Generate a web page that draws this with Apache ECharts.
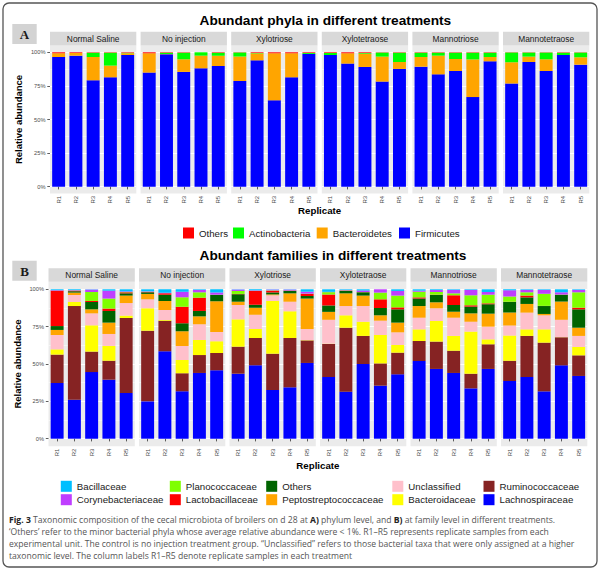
<!DOCTYPE html>
<html><head><meta charset="utf-8">
<script src="https://cdn.jsdelivr.net/npm/echarts@6/dist/echarts.min.js"></script>
<style>html,body{margin:0;padding:0;background:#fff}#c{width:600px;height:570px}</style>
</head><body><div id="c"></div>
<script>
// ---------- DATA ----------
const treatments = ['Normal Saline','No injection','Xylotriose','Xylotetraose','Mannotriose','Mannotetraose'];
const replicates = ['R1','R2','R3','R4','R5'];

// Panel A: phyla (stack order bottom -> top), 6 treatments x 5 replicates
const phylaNames = ['Firmicutes','Bacteroidetes','Actinobacteria','Others'];
const firmicutes     = [96.5,97.5,79.2,81.4,98.0, 84.9,98.5,85.4,88.1,89.8, 78.7,94.0,64.3,81.4,98.8, 98.0,91.6,89.1,78.2,87.6, 89.3,83.6,86.1,66.7,93.3, 76.7,92.8,86.1,98.0,90.8];
const bacteroidetes  = [2.8,2.0,17.3,8.7,1.3, 14.4,0.3,9.4,9.4,7.7, 18.1,5.2,35.0,17.9,0.0, 0.0,7.7,9.9,18.6,5.2, 7.2,13.9,8.9,28.0,3.2, 15.9,4.0,8.7,0.0,5.5];
const actinobacteria = [0.0,0.0,3.2,9.6,0.3, 0.0,0.8,4.9,2.5,2.2, 3.0,0.3,0.0,0.0,0.7, 1.5,0.0,0.5,3.0,6.9, 3.2,2.2,4.7,5.0,3.2, 7.2,3.0,5.0,1.7,3.5];
const othersPhyla    = [0.7,0.5,0.3,0.3,0.4, 0.7,0.4,0.3,0.0,0.3, 0.2,0.5,0.7,0.7,0.5, 0.5,0.7,0.5,0.2,0.3, 0.3,0.3,0.3,0.3,0.3, 0.2,0.2,0.2,0.3,0.2];

// Panel B: families (stack order bottom -> top)
const familyNames = ['Lachnospiraceae','Ruminococcaceae','Bacteroidaceae','Unclassified','Peptostreptococcaceae','Others','Lactobacillaceae','Planococcaceae','Corynebacteriaceae','Bacillaceae'];
const lachnospiraceae   = [37.3,26.1,44.6,39.5,30.6, 25.0,58.5,31.7,44.0,45.8, 43.5,49.1,32.6,34.4,50.7, 41.3,31.5,50.0,35.5,43.1, 52.0,46.7,44.0,33.7,46.7, 38.6,41.3,31.7,49.1,42.0];
const ruminococcaceae   = [19.0,62.7,13.7,12.7,50.2, 47.3,20.5,12.1,12.0,11.6, 18.1,18.3,24.3,33.0,15.1, 22.1,42.8,18.8,14.9,14.5, 13.4,18.3,14.9,9.8,16.5, 13.6,27.5,32.6,18.8,13.8];
const bacteroidaceae    = [3.5,2.7,17.6,9.9,1.6, 15.0,0.5,8.9,10.1,7.8, 18.3,6.0,35.3,17.9,0.2, 0.2,8.3,9.5,19.0,5.1, 7.8,13.8,9.9,28.2,3.3, 16.8,4.4,8.9,0.1,5.6];
const unclassified      = [9.6,4.7,8.0,8.0,8.4, 6.0,6.7,9.4,10.5,6.2, 9.6,9.6,3.8,6.4,7.4, 16.0,6.2,10.5,9.6,8.5, 7.8,8.5,12.2,6.6,8.5, 6.7,11.2,9.4,11.6,7.4];
const peptostreptococcaceae = [3.4,1.6,2.7,7.6,5.0, 3.6,6.0,9.8,5.3,20.6, 2.2,4.7,0.6,5.6,20.4, 5.3,8.5,7.0,3.6,6.5, 7.8,4.0,4.0,5.6,8.7, 8.7,5.8,0.9,12.2,5.5];
const othersFamily      = [2.6,0.9,4.9,7.8,1.5, 1.1,4.2,5.3,3.6,4.2, 5.0,2.0,1.3,1.6,1.7, 4.3,1.6,2.2,4.9,8.9, 5.0,4.9,4.5,4.5,6.3, 7.1,4.4,5.3,4.5,12.3];
const lactobacillaceae  = [23.7,0.3,0.7,1.6,0.7, 0.2,0.9,11.2,8.9,0.0, 0.2,9.2,1.1,0.2,1.4, 7.3,0.2,0.1,5.8,1.3, 0.8,0.2,6.5,0.9,0.6, 0.2,1.2,0.1,0.1,1.1];
const planococcaceae    = [0.0,0.2,6.0,6.7,0.2, 0.2,0.1,6.2,3.6,0.2, 2.0,0.2,0.3,0.1,0.2, 1.6,0.2,0.1,4.5,7.9, 3.8,1.8,1.3,6.7,5.8, 3.4,2.2,8.1,0.1,10.3];
const corynebacteriaceae= [0.3,0.3,1.6,5.3,0.4, 0.3,0.3,3.8,1.6,1.4, 0.9,0.3,0.5,0.6,1.3, 0.2,0.3,1.0,2.2,3.1, 0.7,1.3,2.3,3.6,1.8, 4.2,1.6,2.6,1.5,1.6];
const bacillaceae       = [0.6,0.5,0.2,0.9,1.4, 1.3,2.3,1.6,0.4,2.2, 0.2,0.6,0.2,0.2,1.6, 1.7,0.4,0.8,0.0,1.1, 0.9,0.5,0.4,0.4,1.8, 0.7,0.4,0.4,2.0,0.4];

// legend order as drawn
const legendAOrder = ['Others','Actinobacteria','Bacteroidetes','Firmicutes'];
const legendBRow1 = ['Bacillaceae','Planococcaceae','Others','Unclassified','Ruminococcaceae'];
const legendBRow2 = ['Corynebacteriaceae','Lactobacillaceae','Peptostreptococcaceae','Bacteroidaceae','Lachnospiraceae'];

const captionLines = [
  '{b|Fig. 3} Taxonomic composition of the cecal microbiota of broilers on d 28 at {b|A)} phylum level, and {b|B)} at family level in different treatments.',
  '\u2018Others\u2019 refer to the minor bacterial phyla whose average relative abundance were < 1%. R1\u2013R5 represents replicate samples from each',
  'experimental unit. The control is no injection treatment group. \u201CUnclassified\u201D refers to those bacterial taxa that were only assigned at a higher',
  'taxonomic level. The column labels R1\u2013R5 denote replicate samples in each treatment'
];

// ---------- STYLE / LAYOUT ----------
const FONT = 'Liberation Sans, Arial, Helvetica, sans-serif';
const CAPFONT = 'Open Sans, Noto Sans, sans-serif';
const phylaColors = {Firmicutes:'#0000FF', Bacteroidetes:'#FFA500', Actinobacteria:'#00FF00', Others:'#FF0000'};
const familyColors = {Lachnospiraceae:'#0000FF', Ruminococcaceae:'#862323', Bacteroidaceae:'#FFFF00', Unclassified:'#FFC0CB',
  Peptostreptococcaceae:'#FFA500', Others:'#006400', Lactobacillaceae:'#FF0000', Planococcaceae:'#7FFF00',
  Corynebacteriaceae:'#BF3EFF', Bacillaceae:'#00BFFF'};

const panels = [
  {label:'A', title:'Abundant phyla in different treatments', titleY:20.7, labelY:24,
   left0:50, width:86.3, step:90.6, top:52.3, height:134.4, expand:6.7, stripH:13.9, repY:210.7,
   names:phylaNames, colors:phylaColors, values:[firmicutes,bacteroidetes,actinobacteria,othersPhyla]},
  {label:'B', title:'Abundant families in different treatments', titleY:255.7, labelY:260.7,
   left0:48.5, width:86.3, step:90.5, top:289.3, height:149.4, expand:7.5, stripH:13.6, repY:465,
   names:familyNames, colors:familyColors,
   values:[lachnospiraceae,ruminococcaceae,bacteroidaceae,unclassified,peptostreptococcaceae,othersFamily,lactobacillaceae,planococcaceae,corynebacteriaceae,bacillaceae]}
];

const grid=[], xAxis=[], yAxis=[], series=[], graphic=[];
graphic.push({type:'rect', silent:true, z:-20, shape:{x:3,y:3,width:594,height:564,r:6}, style:{fill:'#fff', stroke:'#555', lineWidth:1.3}});

panels.forEach((p, pi) => {
  graphic.push({type:'text', silent:true, x:199.5, y:p.titleY, style:{text:p.title, fontFamily:FONT, fontSize:13.7, fontWeight:'bold', fill:'#000', textAlign:'left', textVerticalAlign:'middle'}});
  graphic.push({type:'rect', silent:true, z:-5, shape:{x:12.3,y:p.labelY,width:24.4,height:20}, style:{fill:'#D3D3D3'}});
  graphic.push({type:'text', silent:true, x:24.5, y:p.labelY+10.5, style:{text:p.label, fontFamily:'Liberation Serif, DejaVu Serif, serif', fontSize:13, fontWeight:'bold', fill:'#1a1a1a', textAlign:'center', textVerticalAlign:'middle'}});
  graphic.push({type:'text', silent:true, x:p.left0 + (5*p.step + p.width)/2, y:p.repY, style:{text:'Replicate', fontFamily:FONT, fontSize:9.7, fontWeight:'bold', fill:'#000', textAlign:'center', textVerticalAlign:'middle'}});
  treatments.forEach((t, ti) => {
    const gi = pi*6 + ti;
    const left = p.left0 + ti*p.step;
    grid.push({left:left, top:p.top, width:p.width, height:p.height, containLabel:false});
    graphic.push({type:'rect', silent:true, z:-10, shape:{x:left, y:p.top-p.expand, width:p.width, height:p.height+2*p.expand}, style:{fill:'#EBEBEB'}});
    graphic.push({type:'rect', silent:true, z:-10, shape:{x:left, y:p.top-p.expand-p.stripH, width:p.width, height:p.stripH}, style:{fill:'#D9D9D9'}});
    graphic.push({type:'text', silent:true, x:left+p.width/2, y:p.top-p.expand-p.stripH/2, style:{text:t, fontFamily:FONT, fontSize:8.4, fill:'#1A1A1A', textAlign:'center', textVerticalAlign:'middle'}});
    xAxis.push({type:'category', gridIndex:gi, data:replicates, offset:p.expand,
      axisLine:{show:false}, axisTick:{show:true, alignWithLabel:true, length:2.7, lineStyle:{color:'#333', width:0.8}},
      axisLabel:{interval:0, rotate:90, fontSize:6, color:'#4D4D4D', fontFamily:FONT, margin:2.5},
      splitLine:{show:false}});
    const first = ti===0;
    yAxis.push({type:'value', gridIndex:gi, min:0, max:100, interval:25,
      name: first ? 'Relative abundance' : '', nameLocation:'middle', nameRotate:90, nameGap:26.5,
      nameTextStyle:{fontFamily:FONT, fontSize:9.5, fontWeight:'bold', color:'#000'},
      axisLine:{show:false},
      axisTick:{show:first, length:2.7, lineStyle:{color:'#333', width:0.8}},
      axisLabel:{show:first, formatter:'{value}%', fontSize:5.7, color:'#4D4D4D', fontFamily:FONT, margin:4.5},
      splitLine:{show:true, lineStyle:{color:'#FFFFFF', width:1}},
      minorTick:{show:false, splitNumber:2},
      minorSplitLine:{show:true, lineStyle:{color:'#FFFFFF', width:0.5}}});
    p.names.forEach((n, k) => {
      series.push({type:'bar', name:n, xAxisIndex:gi, yAxisIndex:gi, stack:'s'+gi, barWidth:'75%',
        data:p.values[k].slice(ti*5, ti*5+5), itemStyle:{color:p.colors[n]}, emphasis:{disabled:true}, silent:true});
    });
  });
});

// legends
const legend = [];
function addLegend(name, color, left, top) {
  legend.push({show:true, selectedMode:false, left:left, top:top, padding:0, itemWidth:11, itemHeight:11, itemGap:0,
    icon:'rect', data:[{name:name, itemStyle:{color:color}}],
    textStyle:{fontFamily:FONT, fontSize:9.7, color:'#1A1A1A', padding:[0,0,0,0]}});
}
const legAX = [183, 233, 316.7, 399];
legendAOrder.forEach((n,i)=>addLegend(n, phylaColors[n], legAX[i], 227.5));
const legBX = [60.8, 169.8, 266.2, 392.3, 483.5];
legendBRow1.forEach((n,i)=>addLegend(n, familyColors[n], legBX[i], 480.8));
legendBRow2.forEach((n,i)=>addLegend(n, familyColors[n], legBX[i], 494.2));

// caption
captionLines.forEach((line, i) => {
  graphic.push({type:'text', silent:true, x:9, y:520 + i*12, style:{text:line, fontFamily:CAPFONT, fontSize:8.6, fill:'#555', textAlign:'left', textVerticalAlign:'middle',
    rich:{b:{fontFamily:CAPFONT, fontSize:8.6, fontWeight:'bold', fill:'#222'}}}});
});

const chart = echarts.init(document.getElementById('c'), null, {renderer:'svg', width:600, height:570});
chart.setOption({animation:false, backgroundColor:'#fff', grid, xAxis, yAxis, series, legend, graphic});
</script>
</body></html>
